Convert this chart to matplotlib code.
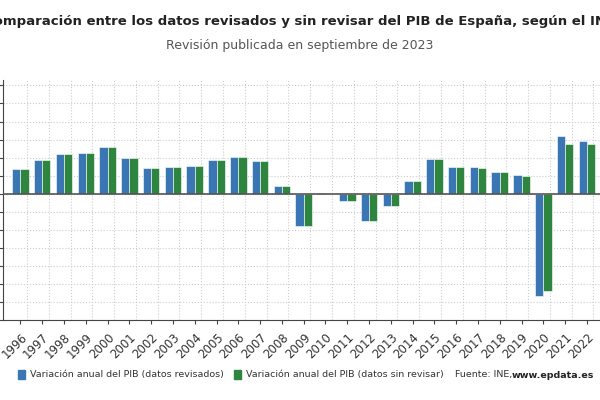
import matplotlib.pyplot as plt
import numpy as np

years = [str(y) for y in range(1996, 2023)]
revisados = [2.7, 3.7, 4.4, 4.5, 5.2, 3.9, 2.8, 3.0, 3.1, 3.7, 4.1, 3.6, 0.9, -3.6, 0.1, -0.8, -3.0, -1.4, 1.4, 3.8, 3.0, 3.0, 2.4, 2.1, -11.3, 6.4, 5.8]
sin_revisar = [2.7, 3.7, 4.4, 4.5, 5.2, 3.9, 2.8, 3.0, 3.1, 3.7, 4.1, 3.6, 0.9, -3.6, 0.0, -0.8, -3.0, -1.4, 1.4, 3.8, 3.0, 2.9, 2.4, 2.0, -10.8, 5.5, 5.5]

blue = '#3a76b4'
green = '#2e8540'

fig = plt.figure(figsize=(6, 4), dpi=100)
ax = fig.add_axes([3/600, 80/400, 597/600, 240/400])
x = np.arange(len(years))
w = 0.38
ax.bar(x - w/2, revisados, w, color=blue, edgecolor='white', linewidth=0.4, zorder=3)
ax.bar(x + w/2, sin_revisar, w, color=green, edgecolor='white', linewidth=0.4, zorder=3)
ax.axhline(0, color='#555555', lw=1.2, zorder=4)
ax.set_xlim(-0.8, 26.6)
ax.set_ylim(-14, 12.6)
ax.set_yticks(np.arange(-14, 13, 2))
ax.set_yticklabels([])
ax.tick_params(axis='y', length=3, color='#444444')
ax.set_xticks(x)
ax.set_xticklabels(years, rotation=45, ha='right', rotation_mode='anchor', fontsize=8.5, color='#333333')
ax.tick_params(axis='x', length=3, pad=5, color='#444444')
ax.set_xticks(x + 0.3, minor=True)
ax.tick_params(axis='x', which='minor', length=0)
ax.grid(axis='y', color='#cccccc', ls=':', lw=0.8, zorder=0)
ax.grid(axis='x', which='minor', color='#cccccc', ls=':', lw=0.8, zorder=0)
for s in ['top', 'right']:
    ax.spines[s].set_visible(False)
ax.spines['left'].set_color('#444444')
ax.spines['bottom'].set_color('#444444')

fig.text(0.5, 0.945, 'Comparación entre los datos revisados y sin revisar del PIB de España, según el INE',
         ha='center', va='center', fontsize=9.5, fontweight='bold', color='#222222')
fig.text(0.5, 0.885, 'Revisión publicada en septiembre de 2023', ha='center', va='center', fontsize=9, color='#555555')

from matplotlib.patches import Rectangle
fig.patches.append(Rectangle((18/600, 1-379/400), 7/600, 9/400, color=blue, transform=fig.transFigure))
fig.text(30/600, 1-375/400, 'Variación anual del PIB (datos revisados)', fontsize=6.8, va='center', color='#333333')
fig.patches.append(Rectangle((234/600, 1-379/400), 7/600, 9/400, color=green, transform=fig.transFigure))
fig.text(246/600, 1-375/400, 'Variación anual del PIB (datos sin revisar)', fontsize=6.8, va='center', color='#333333')
fig.text(455/600, 1-375/400, 'Fuente: INE,', fontsize=6.8, va='center', color='#333333')
fig.text(512/600, 1-375/400, 'www.epdata.es', fontsize=6.8, va='center', color='#222222', fontweight='bold')

fig.savefig('out.png', dpi=100)
